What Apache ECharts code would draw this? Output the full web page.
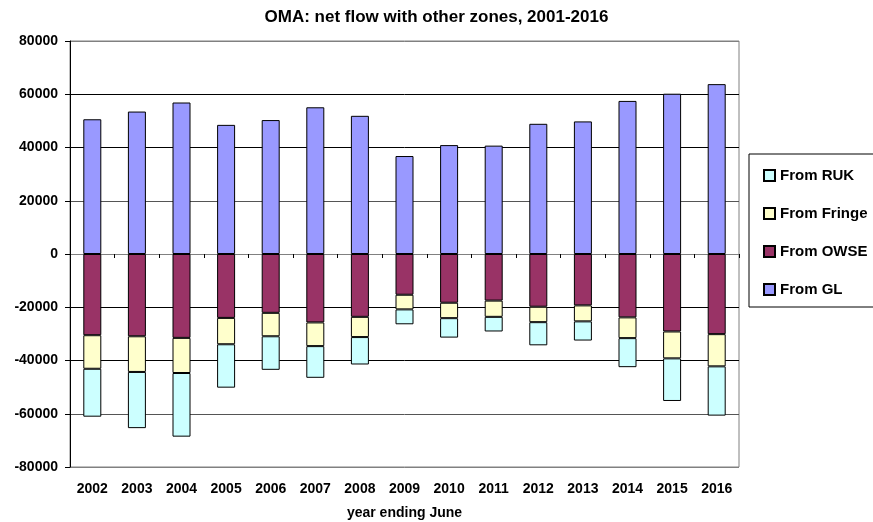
<!DOCTYPE html>
<html lang="en">
<head>
    <meta charset="UTF-8">
    <title>OMA net flow</title>
    <script src="https://cdn.jsdelivr.net/npm/echarts@6/dist/echarts.min.js"></script>
</head>
<body style="margin:0">
<div id="main" style="width: 873px;height:522px;"></div>
<script type="text/javascript">
    // data
    var years = ['2002', '2003', '2004', '2005', '2006', '2007', '2008', '2009',
                 '2010', '2011', '2012', '2013', '2014', '2015', '2016'];
    var fromGL = [50600, 53500, 56900, 48500, 50300, 55100, 51900, 36800,
                  40900, 40700, 48900, 49800, 57500, 60200, 63800];
    var fromOWSE = [-30500, -30900, -31500, -24000, -22100, -25700, -23600, -15300,
                    -18300, -17500, -19800, -19300, -23800, -29100, -30100];
    var fromFringe = [-12600, -13400, -13200, -9900, -8800, -8900, -7600, -5500,
                      -5800, -6100, -5800, -6000, -7800, -10100, -12100];
    var fromRUK = [-18000, -21100, -23900, -16300, -12600, -11900, -10300, -5600,
                   -7300, -5500, -8700, -7200, -10900, -16000, -18500];

    var myChart = echarts.init(document.getElementById('main'));

    var font = 'Liberation Sans, Arial, sans-serif';

    function bar(name, data, color) {
        return {
            name: name,
            type: 'bar',
            stack: 'all',
            barWidth: 18,
            data: data,
            itemStyle: { color: color, borderColor: '#000', borderWidth: 1 }
        };
    }

    var option = {
        animation: false,
        backgroundColor: '#fff',
        title: {
            text: 'OMA: net flow with other zones, 2001-2016',
            left: 'center',
            top: 4,
            textStyle: { fontFamily: font, fontSize: 17, fontWeight: 'bold', color: '#000' }
        },
        grid: {
            left: 70, right: 134, top: 41, bottom: 55,
            outerBoundsMode: 'none',
            show: true, borderColor: '#808080', borderWidth: 1
        },
        legend: {
            orient: 'vertical',
            left: 749, top: 154,
            padding: [14, 20, 10, 14],
            itemGap: 23,
            itemWidth: 11, itemHeight: 11,
            icon: 'rect',
            borderColor: '#000', borderWidth: 1,
            data: ['From RUK', 'From Fringe', 'From OWSE', 'From GL'],
            textStyle: { fontFamily: font, fontSize: 15, fontWeight: 'bold', color: '#000' }
        },
        xAxis: [
            {
                type: 'category',
                data: years,
                axisLine: { onZero: true, lineStyle: { color: '#808080' } },
                axisTick: { show: true, length: 4, lineStyle: { color: '#000' } },
                axisLabel: { show: false }
            },
            {
                type: 'category',
                data: years,
                position: 'bottom',
                axisLine: { show: false },
                axisTick: { show: false },
                axisLabel: { fontFamily: font, fontSize: 14, fontWeight: 'bold', color: '#000', margin: 15 },
                name: 'year ending June',
                nameLocation: 'middle',
                nameGap: 39,
                nameTextStyle: { fontFamily: font, fontSize: 14, fontWeight: 'bold', color: '#000' }
            }
        ],
        yAxis: {
            type: 'value',
            min: -80000, max: 80000, interval: 20000,
            axisLine: { show: true, lineStyle: { color: '#000' } },
            axisTick: { show: true, length: 5, lineStyle: { color: '#000' } },
            axisLabel: {
                fontFamily: font, fontSize: 14, fontWeight: 'bold', color: '#000', margin: 12,
                formatter: function (v) { return String(v); }
            },
            splitLine: {
                lineStyle: {
                    color: ['#808080', '#555', '#000', '#000', '#808080', '#555', '#000', '#000', '#808080']
                }
            }
        },
        series: [
            bar('From OWSE', fromOWSE, '#993366'),
            bar('From Fringe', fromFringe, '#FFFFCC'),
            bar('From RUK', fromRUK, '#CCFFFF'),
            bar('From GL', fromGL, '#9999FF')
        ]
    };

    myChart.setOption(option);
</script>
</body>
</html>
